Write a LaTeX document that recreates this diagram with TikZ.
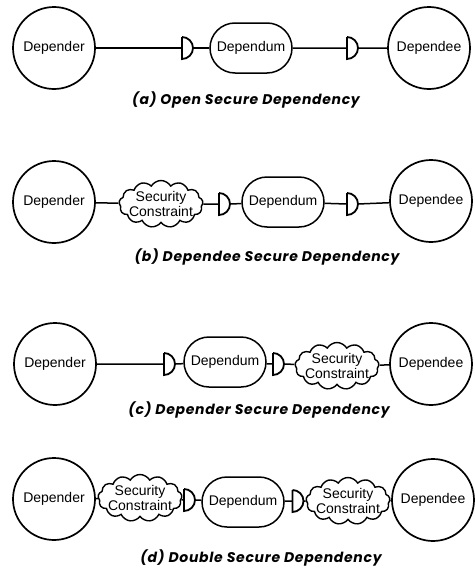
\documentclass[tikz,border=0pt]{standalone}
\usepackage{fontspec}
\setmainfont{Liberation Sans}
\newfontfamily\capfont[LetterSpace=5]{Poppins}
\usetikzlibrary{shapes.symbols,shapes.misc}
\begin{document}
\begin{tikzpicture}[x=1pt,y=-1pt,
  actor/.style={circle,draw,line width=1.7pt,minimum size=82pt,inner sep=0pt,font=\fontsize{14}{14}\selectfont},
  goal/.style={rounded rectangle,draw,line width=1.5pt,minimum width=82pt,minimum height=50pt,inner sep=0pt,font=\fontsize{14}{14}\selectfont},
  cloudbox/.style={cloud,draw,line width=1.4pt,cloud puffs=13,cloud puff arc=120,aspect=1.9,minimum width=84pt,minimum height=47pt,inner sep=0pt},
  cloudtext/.style={align=center,inner sep=0pt,font=\fontsize{14}{13}\selectfont},
  dnode/.style={minimum width=11pt,minimum height=22pt,inner sep=0pt,outer sep=0pt},
  dsym/.style={line width=1.8pt},
  link/.style={line width=1.5pt},
  captext/.style={font=\capfont\bfseries\itshape\fontsize{14}{15}\selectfont}
]
\useasboundingbox (0,0) rectangle (474,570);
\newcommand{\dshape}[1]{\draw[dsym] (#1.north west) -- (#1.south west) arc[start angle=-90,end angle=90,radius=11pt];}

% (a)
\node[actor] (ra1) at (54,48) {Depender};
\node[dnode] (da1) at (187.5,48) {};
\node[goal] (ga) at (251,48) {Dependum};
\node[dnode] (da2) at (352.5,48) {};
\node[actor] (ra2) at (429,48) {Dependee};
\dshape{da1}\dshape{da2}
\draw[link] (ra1) -- (da1.west) (da1.east) -- (ga);
\draw[link] (ga) -- (da2.west) (da2.east) -- (ra2);
\node[captext] (capa) at (246,100) {(a) Open Secure Dependency};

% (b)
\node[actor] (rb1) at (54,202) {Depender};
\node[cloudbox] (cb) at (161,204) {};
\node[cloudtext] (cbt) at (cb) {Security\\Constraint};
\node[dnode] (db1) at (224.5,204) {};
\node[goal] (gb) at (283,202) {Dependum};
\node[dnode] (db2) at (352.5,204) {};
\node[actor] (rb2) at (431,201) {Dependee};
\dshape{db1}\dshape{db2}
\draw[link] (rb1) -- (cb) (cb) -- (db1.west) (db1.east) -- (gb);
\draw[link] (gb) -- (db2.west) (db2.east) -- (rb2);
\node[captext] (capb) at (267,257) {(b) Dependee Secure Dependency};

% (c)
\node[actor] (rc1) at (55,364) {Depender};
\node[dnode] (dc1) at (169.5,364) {};
\node[goal] (gc) at (225,362) {Dependum};
\node[dnode] (dc2) at (278.5,364) {};
\node[cloudbox] (cc) at (337,366) {};
\node[cloudtext] (cct) at (cc) {Security\\Constraint};
\node[actor] (rc2) at (431,364) {Dependee};
\dshape{dc1}\dshape{dc2}
\draw[link] (rc1) -- (dc1.west) (dc1.east) -- (gc);
\draw[link] (gc) -- (dc2.west) (dc2.east) -- (cc) (cc) -- (rc2);
\node[captext] (capc) at (259,410) {(c) Depender Secure Dependency};

% (d)
\node[actor] (rd1) at (54,499) {Depender};
\node[cloudbox] (cd1) at (140,498) {};
\node[cloudtext] (cd1t) at (cd1) {Security\\Constraint};
\node[dnode] (dd1) at (189.5,500) {};
\node[goal] (gd) at (243,502) {Dependum};
\node[dnode] (dd2) at (298,501) {};
\node[cloudbox] (cd2) at (348,501) {};
\node[cloudtext] (cd2t) at (cd2) {Security\\Constraint};
\node[actor] (rd2) at (433,500) {Dependee};
\dshape{dd1}\dshape{dd2}
\draw[link] (rd1) -- (cd1) (cd1) -- (dd1.west) (dd1.east) -- (gd);
\draw[link] (gd) -- (dd2.west) (dd2.east) -- (cd2) (cd2) -- (rd2);
\node[captext] (capd) at (261,558) {(d) Double Secure Dependency};
\end{tikzpicture}
\end{document}
